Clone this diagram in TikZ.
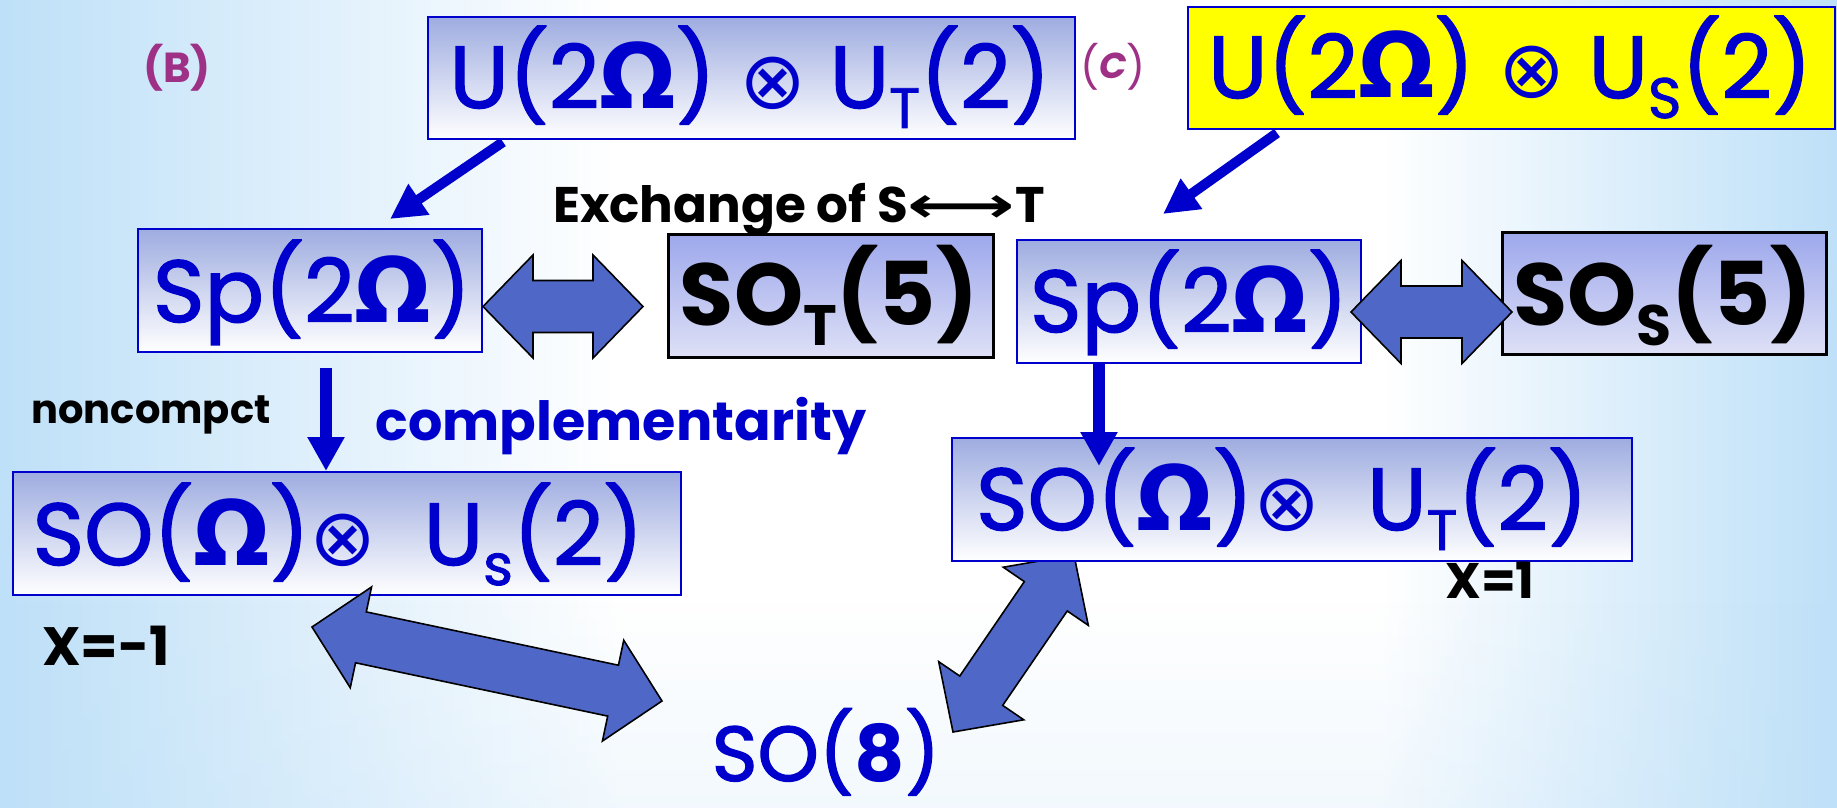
\documentclass[tikz,border=0pt]{standalone}
\usepackage{fontspec}
\setmainfont{Poppins}
\newfontfamily\pr[FakeBold=1.6]{Poppins}
\newfontfamily\dvs{DejaVu Sans}
\usetikzlibrary{arrows.meta,calc,fadings}

\definecolor{bl}{RGB}{0,0,204}
\definecolor{pur}{RGB}{158,48,134}
\definecolor{arrblue}{RGB}{79,104,200}
\definecolor{boxtop}{RGB}{158,172,224}
\definecolor{boxtopB}{RGB}{157,168,236}
\definecolor{boxbotB}{RGB}{222,224,246}
\definecolor{bgblue}{RGB}{190,224,248}
\definecolor{yel}{RGB}{255,255,0}

\tikzfading[name=bandfade, top color=transparent!100, middle color=transparent!45, bottom color=transparent!80]

\newcommand\fs[1]{\fontsize{#1}{#1}\selectfont}
\newcommand\Om{{\dvs\bfseries\fs{90}Ω}}
\newcommand\ot{{\dvs\fs{80}⊗}}
\newcommand\sbs[1]{\raisebox{-20pt}{\fs{57}#1}}

\newcommand\blockarr[3]{%
  \coordinate (#1h1) at ($(#2)!50pt!(#3)$);
  \coordinate (#1h2) at ($(#3)!50pt!(#2)$);
  \draw[blockarrow] (#2) -- ($(#1h1)!51.5pt!90:(#3)$) -- ($(#1h1)!26pt!90:(#3)$)
    -- ($(#1h2)!26pt!-90:(#2)$) -- ($(#1h2)!51.5pt!-90:(#2)$) -- (#3)
    -- ($(#1h2)!51.5pt!90:(#2)$) -- ($(#1h2)!26pt!90:(#2)$)
    -- ($(#1h1)!26pt!-90:(#3)$) -- ($(#1h1)!51.5pt!-90:(#3)$) -- cycle;}

\tikzset{
  bbox/.style={draw=bl, line width=2.5pt, top color=boxtop, bottom color=white, inner sep=0pt},
  kbox/.style={draw=black, line width=3pt, top color=boxtopB, bottom color=boxbotB, inner sep=0pt},
  ybox/.style={draw=bl, line width=2.5pt, fill=yel, inner sep=0pt},
  txt/.style={anchor=base, inner sep=0pt},
  btxt/.style={anchor=base, inner sep=0pt, text=bl, font=\pr},
  blockarrow/.style={fill=arrblue, draw=black, line width=1.6pt, line join=miter},
  thinarr/.style={draw=bl, line width=10pt, -{Triangle[length=35pt,width=35pt]}},
  vertarr/.style={draw=bl, line width=12pt, -{Triangle[length=34pt,width=35pt]}},
}

\begin{document}
\begin{tikzpicture}[x=1pt,y=-1pt]
\useasboundingbox (0,0) rectangle (1837,808);
% background
\fill[white] (0,0) rectangle (1837,808);
\shade[left color=bgblue, right color=white] (0,0) rectangle (620,808);
\shade[left color=white, right color=bgblue] (1380,0) rectangle (1837,808);
\fill[bgblue, path fading=bandfade] (0,600) rectangle (1837,808);

% block arrow under the right SO box
\coordinate (d1a) at (953,732);
\coordinate (d1b) at (1074,555);
\blockarr{dd}{d1a}{d1b}

% boxes
\node[bbox, minimum width=647pt, minimum height=122pt] (UT) at (751.5,78) {};
\node[ybox, minimum width=647pt, minimum height=122pt] (US) at (1511.5,68) {};
\node[bbox, minimum width=344pt, minimum height=123pt] (SpL) at (310,290.5) {};
\node[kbox, minimum width=325pt, minimum height=123pt] (SOT) at (830.5,295.5) {};
\node[bbox, minimum width=344pt, minimum height=123pt] (SpR) at (1189,301.5) {};
\node[kbox, minimum width=324pt, minimum height=122pt] (SOS) at (1664,293) {};
\node[bbox, minimum width=668pt, minimum height=123pt] (SOL) at (347,533.5) {};
\node[bbox, minimum width=680pt, minimum height=123pt] (SOR) at (1292,499.5) {};

% box texts
\node[btxt] (UTt) at (750,108) {\fs{88}U(2\Om) \ot\ U\sbs{T}(2)};
\node[btxt] (USt) at (1510,98) {\fs{88}U(2\Om) \ot\ U\sbs{S}(2)};
\node[btxt] (SpLt) at (312,322) {\fs{88}Sp(2\Om)};
\node[txt] (SOTt) at (829,325) {\fs{88}\bfseries SO\sbs{T}(5)};
\node[btxt] (SpRt) at (1189,332) {\fs{88}Sp(2\Om)};
\node[txt] (SOSt) at (1663,325) {\fs{88}\bfseries SO\sbs{S}(5)};
\node[btxt] (SOLt) at (338,565) {\fs{88}SO(\Om)\ot\ \ U\sbs{s}(2)};
\node[btxt] (SORt) at (1282,530) {\fs{88}SO(\Om)\ot\ \ U\sbs{T}(2)};
\node[btxt] (SO8) at (826,781) {\fs{78}SO({\rmfamily\bfseries 8})};

% labels
\node[txt, text=pur] (B) at (177,82) {\fs{42}\bfseries (B)};
\node[txt, text=pur] (C) at (1113,82) {\fs{42}(\raisebox{4pt}{\fs{36}\bfseries\itshape C})};
\node[txt] (exch) at (799,222) {\fs{50}\bfseries Exchange of S\scalebox{1.5}[1]{\dvs\bfseries ⟷}T};
\node[txt, text=bl] (comp) at (621,440) {\fs{54}\bfseries complementarity};
\node[txt] (nonc) at (151,423) {\fs{40}\bfseries noncompct};
\node[txt] (xm1) at (106,665) {\fs{54}\bfseries X=-1};
\node[txt] (xp1) at (1490,598) {\fs{50}\bfseries X=1};

% block arrows on top
\coordinate (h1a) at (483,306.5);
\coordinate (h1b) at (643,306.5);
\blockarr{ha}{h1a}{h1b}
\coordinate (h2a) at (1351,312);
\coordinate (h2b) at (1512,312);
\blockarr{hb}{h2a}{h2b}
\coordinate (b1a) at (312,627);
\coordinate (b1b) at (662,701);
\blockarr{bb}{b1a}{b1b}

% thin arrows
\coordinate (t1s) at (503,142);
\coordinate (t1e) at (390,219);
\draw[thinarr] (t1s) -- (t1e);
\coordinate (t2s) at (1277,133);
\coordinate (t2e) at (1163,214);
\draw[thinarr] (t2s) -- (t2e);
\coordinate (v1s) at (326,368);
\coordinate (v1e) at (326,471);
\draw[vertarr] (v1s) -- (v1e);
\coordinate (v2s) at (1099,363);
\coordinate (v2e) at (1099,466);
\draw[vertarr] (v2s) -- (v2e);
\end{tikzpicture}
\end{document}
